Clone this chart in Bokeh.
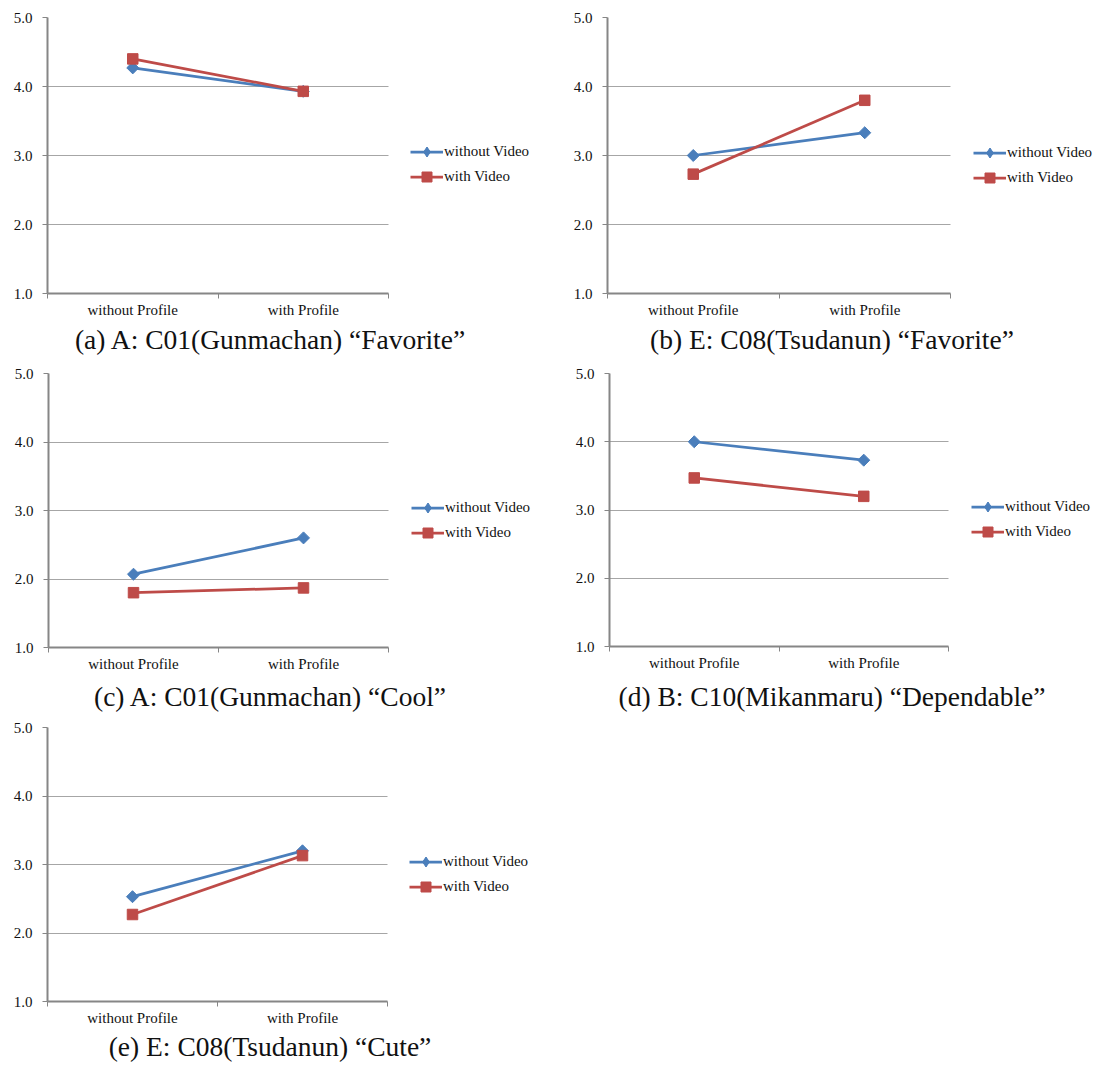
import math
from bokeh.plotting import figure
from bokeh.models import (Range1d, FixedTicker, NumeralTickFormatter, Legend,
                          LegendItem, ColumnDataSource, Div, Spacer)
from bokeh.layouts import column, row
from bokeh.embed import file_html
from bokeh.resources import INLINE

# ---------------- data ----------------
categories = ["without Profile", "with Profile"]
series_names = ["without Video", "with Video"]
y_ticks = [1, 2, 3, 4, 5]

a_without_video = [4.27, 3.93]
a_with_video = [4.40, 3.93]
b_without_video = [3.00, 3.33]
b_with_video = [2.73, 3.80]
c_without_video = [2.07, 2.60]
c_with_video = [1.80, 1.87]
d_without_video = [4.00, 3.73]
d_with_video = [3.47, 3.20]
e_without_video = [2.53, 3.20]
e_with_video = [2.27, 3.13]

captions = [
    "(a) A: C01(Gunmachan) \u201cFavorite\u201d",
    "(b) E: C08(Tsudanun) \u201cFavorite\u201d",
    "(c) A: C01(Gunmachan) \u201cCool\u201d",
    "(d) B: C10(Mikanmaru) \u201cDependable\u201d",
    "(e) E: C08(Tsudanun) \u201cCute\u201d",
]

# ---------------- style ----------------
BLUE = "#4A7EBB"
RED = "#BE4B48"
GRID = "#a6a6a6"
AXIS = "#868686"
FONT = "Liberation Serif"
TEXT = "#111111"

# layout per panel: border_left, plot-area width, legend-area width, border_top, frame_h,
# border_bottom, legend (x,y) offset from plot-area right / bottom
layouts = [
    dict(bl=47, fw=341, br=162, bt=17, fh=276, bb=32, lx=22, ly=104),
    dict(bl=57, fw=343, br=145, bt=15, fh=276, bb=34, lx=23, ly=103),
    dict(bl=48, fw=340, br=162, bt=12, fh=274, bb=36, lx=23, ly=102),
    dict(bl=59, fw=339, br=147, bt=13, fh=273, bb=36, lx=23, ly=102),
    dict(bl=47, fw=340, br=163, bt=13, fh=274, bb=31, lx=22, ly=102),
]
caption_heights = [35, 32, 30]

panel_data = [
    (a_without_video, a_with_video),
    (b_without_video, b_with_video),
    (c_without_video, c_with_video),
    (d_without_video, d_with_video),
    (e_without_video, e_with_video),
]

n_cat = len(categories)
x_pos = [i + 0.5 for i in range(n_cat)]
x_bounds = [float(i) for i in range(n_cat + 1)]


def make_panel(vals, L):
    total_w = L["fw"] + L["br"]
    x_end = n_cat * total_w / L["fw"]      # frame also holds the legend area
    p = figure(x_range=Range1d(0, x_end), y_range=Range1d(y_ticks[0], y_ticks[-1]),
               frame_width=total_w, frame_height=L["fh"],
               min_border_left=L["bl"], min_border_right=0,
               min_border_top=L["bt"], min_border_bottom=L["bb"],
               output_backend="svg", toolbar_location=None)
    p.outline_line_color = None
    p.background_fill_color = "white"
    p.border_fill_color = "white"

    p.xgrid.visible = False
    p.ygrid.ticker = FixedTicker(ticks=y_ticks)
    p.ygrid.grid_line_color = GRID
    p.ygrid.grid_line_width = 1
    try:
        p.ygrid.cross_bounds = (0, n_cat)
    except Exception:
        p.ygrid.visible = False
        p.segment(x0=[0] * len(y_ticks), x1=[n_cat] * len(y_ticks), y0=y_ticks, y1=y_ticks,
                  line_color=GRID, line_width=1)

    # x axis
    xa = p.xaxis[0]
    xa.bounds = (0, n_cat)
    xa.ticker = FixedTicker(ticks=x_pos, minor_ticks=x_bounds)
    xa.major_label_overrides = {x: c for x, c in zip(x_pos, categories)}
    xa.major_tick_out = 0
    xa.major_tick_in = 0
    xa.minor_tick_out = 5
    xa.minor_tick_in = 0
    xa.minor_tick_line_color = AXIS
    xa.axis_line_color = AXIS
    xa.axis_line_width = 2
    xa.major_label_standoff = 3
    xa.major_label_text_font = FONT
    xa.major_label_text_font_size = "15px"
    xa.major_label_text_color = TEXT

    # y axis
    ya = p.yaxis[0]
    ya.ticker = FixedTicker(ticks=y_ticks)
    ya.formatter = NumeralTickFormatter(format="0.0")
    ya.major_tick_out = 5
    ya.major_tick_in = 0
    ya.minor_tick_out = 0
    ya.minor_tick_in = 0
    ya.major_tick_line_color = AXIS
    ya.axis_line_color = AXIS
    ya.axis_line_width = 2
    ya.major_label_standoff = 10
    ya.major_label_text_font = FONT
    ya.major_label_text_font_size = "15px"
    ya.major_label_text_color = TEXT

    wo, wi = vals
    src_wo = ColumnDataSource(dict(x=x_pos, y=wo))
    src_wi = ColumnDataSource(dict(x=x_pos, y=wi))

    l1 = p.line("x", "y", source=src_wo, line_color=BLUE, line_width=2.75)
    p.scatter("x", "y", source=src_wo, marker="square", angle=math.pi / 4, size=8.5,
              fill_color=BLUE, line_color=BLUE)
    l2 = p.line("x", "y", source=src_wi, line_color=RED, line_width=2.75)
    m2 = p.scatter("x", "y", source=src_wi, marker="square", size=10.5,
                   fill_color=RED, line_color=RED)

    # legend proxy for the diamond (smaller, as in the legend of the original)
    m1p = p.scatter("x", "y", source=src_wo, marker="diamond", size=8,
                    fill_color=BLUE, line_color=BLUE, visible=False)

    legend = Legend(items=[LegendItem(label=series_names[0], renderers=[l1, m1p]),
                           LegendItem(label=series_names[1], renderers=[l2, m2])],
                    location=(L["fw"] + L["lx"], L["ly"]),
                    glyph_width=33, glyph_height=25, label_height=25, spacing=0,
                    padding=0, margin=0, label_standoff=1,
                    border_line_color=None, background_fill_alpha=0,
                    label_text_font=FONT, label_text_font_size="15px",
                    label_text_color=TEXT)
    p.add_layout(legend)
    return p


def make_caption(text, width, height):
    return Div(text=text, width=width, height=height, margin=0, sizing_mode="fixed",
               styles={"font-family": FONT, "font-size": "27.5px", "line-height": "30px",
                       "text-align": "center", "color": TEXT, "white-space": "nowrap"})


def caption_row(left_text, right_text, height):
    kids = [make_caption(left_text, 540, height)]
    if right_text is not None:
        kids.append(Spacer(width=25, height=height, margin=0, sizing_mode="fixed"))
        kids.append(make_caption(right_text, 534, height))
    return row(*kids, sizing_mode="fixed", width=1099, height=height)


figs = [make_panel(v, L) for v, L in zip(panel_data, layouts)]

layout = column(
    row(figs[0], figs[1]),
    caption_row(captions[0], captions[1], caption_heights[0]),
    row(figs[2], figs[3]),
    caption_row(captions[2], captions[3], caption_heights[1]),
    row(figs[4]),
    caption_row(captions[4], None, caption_heights[2]),
)

open("out.html", "w").write(file_html(layout, INLINE))
